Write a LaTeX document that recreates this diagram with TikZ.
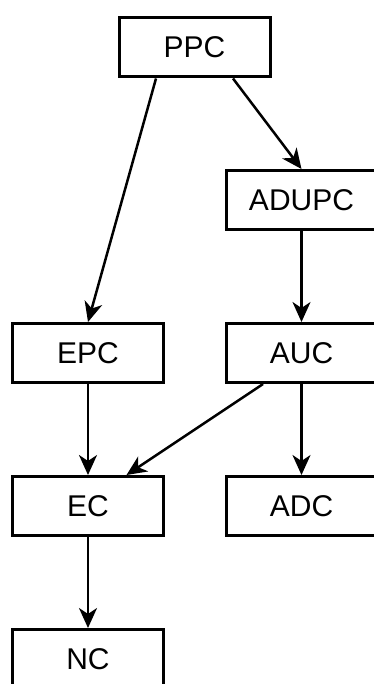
\documentclass[tikz,border=0pt]{standalone}
\usepackage{fontspec}
\setmainfont{Liberation Sans}
\usetikzlibrary{arrows.meta,positioning,calc}

\begin{document}
\begin{tikzpicture}[on grid,node distance=153pt and 213.5pt,
    block/.style={draw,line width=3pt,minimum width=151pt,minimum height=59pt,
                  inner sep=0pt,font=\fontsize{30}{36}\selectfont},
    link/.style={line width=2.5pt,-{Stealth[length=20pt,width=18pt,inset=6pt]}}]
  \clip (0,0) rectangle (374pt,-684pt);
  \useasboundingbox (0,0) rectangle (374pt,-684pt);
  \node[block] (PPC)   at (194.5pt,-47.5pt)               {PPC};
  \node[block] (ADUPC) [below right=152.5pt and 107pt of PPC] {ADUPC};
  \node[block] (AUC)   [below=of ADUPC]                   {AUC};
  \node[block] (ADC)   [below=of AUC]                     {ADC};
  \node[block] (EPC)   [left=of AUC]                      {EPC};
  \node[block] (EC)    [below=of EPC]                     {EC};
  \node[block] (NC)    [below=of EC]                      {NC};
  \path[link]
  ($(PPC.south west)!.25!(PPC.south east)$) edge (EPC.north)
  ($(PPC.south west)!.75!(PPC.south east)$) edge (ADUPC.north)
  (ADUPC) edge (AUC)
  (EPC)   edge (EC)
  ($(AUC.south west)!.25!(AUC.south east)$) edge ($(EC.north west)!.75!(EC.north east)$)
  (AUC)   edge (ADC)
  (EC)    edge (NC);
\end{tikzpicture}
\end{document}
